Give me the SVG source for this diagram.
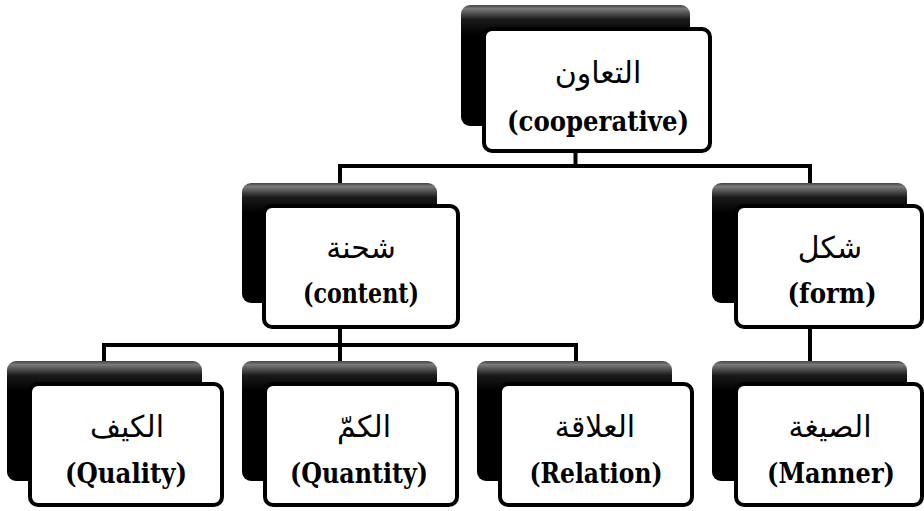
<svg xmlns="http://www.w3.org/2000/svg" width="924" height="511" viewBox="0 0 924 511">
<defs>
<linearGradient id="g" x1="0" y1="0" x2="0" y2="1">
<stop offset="0" stop-color="#444"/>
<stop offset="0.03" stop-color="#7a7a7a"/>
<stop offset="0.12" stop-color="#1a1a1a"/>
<stop offset="0.25" stop-color="#000"/>
<stop offset="1" stop-color="#000"/>
</linearGradient>
</defs>
<style>
.back{fill:url(#g);}
.front{fill:#fff;stroke:#000;stroke-width:4;}
.ar{font-family:"DejaVu Sans",sans-serif;font-size:30px;text-anchor:middle;fill:#000;}
.en{font-family:"DejaVu Serif",serif;font-weight:bold;font-size:28px;text-anchor:middle;fill:#000;}
.conn{fill:none;stroke:#000;stroke-width:4;stroke-linejoin:miter;}
</style>
<rect width="924" height="511" fill="#fff"/>
<g id="connectors">
<path class="conn" d="M575.5,152 V166 M340,185 V166 H810 V185"/>
<path class="conn" d="M340,328 V345 M104,363 V345 H576 V363 M340,345 V363"/>
<path class="conn" d="M810,328 V363"/>
</g>
<g id="node-cooperative">
<rect class="back" x="461" y="5" width="229" height="121" rx="9"/>
<rect class="front" x="484" y="29" width="226" height="122" rx="8"/>
<text class="ar" x="598" y="83">التعاون</text>
<text class="en" x="598" y="131" textLength="182" lengthAdjust="spacingAndGlyphs">(cooperative)</text>
</g>
<g id="node-content">
<rect class="back" x="242" y="183" width="195" height="120" rx="9"/>
<rect class="front" x="264" y="206" width="194" height="121" rx="8"/>
<text class="ar" x="361" y="258">شحنة</text>
<text class="en" x="361" y="303" textLength="116" lengthAdjust="spacingAndGlyphs">(content)</text>
</g>
<g id="node-form">
<rect class="back" x="712" y="183" width="195" height="120" rx="9"/>
<rect class="front" x="736" y="206" width="186" height="121" rx="8"/>
<text class="ar" x="830" y="258">شكل</text>
<text class="en" x="832" y="303" textLength="89" lengthAdjust="spacingAndGlyphs">(form)</text>
</g>
<g id="node-quality">
<rect class="back" x="7" y="361" width="195" height="120" rx="9"/>
<rect class="front" x="30" y="384" width="192" height="121" rx="8"/>
<text class="ar" x="127" y="437">الكيف</text>
<text class="en" x="126" y="483" textLength="122" lengthAdjust="spacingAndGlyphs">(Quality)</text>
</g>
<g id="node-quantity">
<rect class="back" x="242" y="361" width="195" height="120" rx="9"/>
<rect class="front" x="265" y="384" width="192" height="121" rx="8"/>
<text class="ar" x="364" y="437">الكمّ</text>
<text class="en" x="359" y="483" textLength="138" lengthAdjust="spacingAndGlyphs">(Quantity)</text>
</g>
<g id="node-relation">
<rect class="back" x="477" y="361" width="195" height="120" rx="9"/>
<rect class="front" x="500" y="384" width="192" height="121" rx="8"/>
<text class="ar" x="595" y="437">العلاقة</text>
<text class="en" x="596" y="483" textLength="133" lengthAdjust="spacingAndGlyphs">(Relation)</text>
</g>
<g id="node-manner">
<rect class="back" x="712" y="361" width="195" height="120" rx="9"/>
<rect class="front" x="736" y="384" width="186" height="121" rx="8"/>
<text class="ar" x="830" y="437">الصيغة</text>
<text class="en" x="831" y="483" textLength="128" lengthAdjust="spacingAndGlyphs">(Manner)</text>
</g>
</svg>
